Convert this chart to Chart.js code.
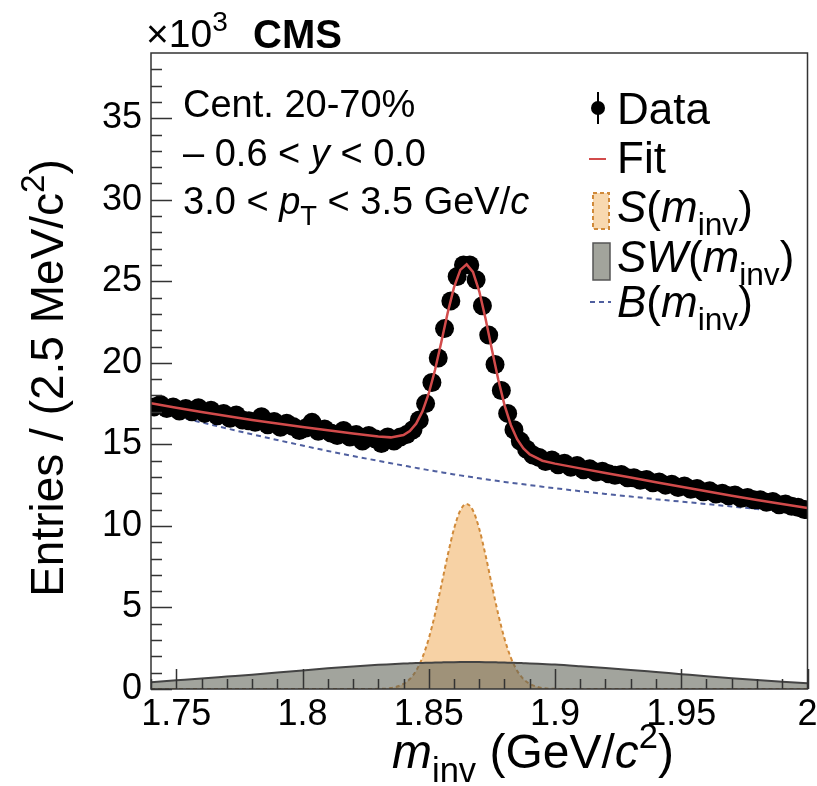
<!DOCTYPE html>
<html>
<head>
<meta charset="utf-8">
<script src="https://cdn.jsdelivr.net/npm/chart.js@4.4.1/dist/chart.umd.min.js"></script>
<style>
  html, body { margin: 0; padding: 0; background: #fff; }
  canvas { display: block; }
</style>
</head>
<body>
<canvas id="massChart" width="817" height="786"></canvas>
<script>
// Histogram binning (GeV/c^2)
const binStart = 1.74;
const binWidth = 0.0025;

// Entries per 2.5 MeV bin, in units of 10^3
const dataCounts = [
  17.3, 17.45, 17.2, 17.3, 17.05, 17.2, 17.0, 17.25, 16.9, 17.1,
  16.75, 16.9, 16.6, 16.8, 16.5, 16.45, 16.35, 16.7, 16.2, 16.4,
  16.05, 16.3, 16.1, 15.85, 16.0, 16.35, 15.8, 15.95, 15.7, 15.55,
  15.85, 15.45, 15.6, 15.2, 15.55, 15.35, 15.05, 15.45, 15.2, 15.45,
  15.6, 15.9, 16.5, 17.5, 18.8, 20.3, 22.1, 23.8, 25.3, 26.0,
  26.0, 25.1, 23.5, 21.7, 19.9, 18.3, 16.9, 15.9, 15.2, 14.7,
  14.35, 14.2, 13.95, 14.05, 13.75, 13.85, 13.6, 13.7, 13.45, 13.5,
  13.3, 13.35, 13.2, 13.1, 13.15, 12.95, 12.95, 12.8, 12.85, 12.65,
  12.7, 12.5, 12.55, 12.35, 12.45, 12.25, 12.3, 12.1, 12.15, 11.95,
  12.0, 11.85, 11.9, 11.7, 11.75, 11.6, 11.6, 11.45, 11.5, 11.3,
  11.35, 11.2, 11.15, 11.0
];

// Points where the fit and its components are sampled
const curveMass = [
  1.74, 1.75, 1.76, 1.77, 1.78, 1.79, 1.80, 1.81, 1.82, 1.83,
  1.835, 1.84, 1.8425, 1.845, 1.8475, 1.85, 1.8525, 1.855, 1.8575, 1.86,
  1.8625, 1.865, 1.8675, 1.87, 1.8725, 1.875, 1.8775, 1.88, 1.8825, 1.885,
  1.8875, 1.89, 1.895, 1.90, 1.91, 1.92, 1.93, 1.94, 1.95, 1.96,
  1.97, 1.98, 1.99, 2.00
];
const fitValues = [
  17.52, 17.25, 16.99, 16.74, 16.50, 16.28, 16.07, 15.87, 15.67, 15.48,
  15.43, 15.57, 15.82, 16.27, 17.02, 18.12, 19.58, 21.29, 23.07, 24.63,
  25.70, 26.04, 25.58, 24.39, 22.71, 20.82, 18.99, 17.41, 16.19, 15.32,
  14.75, 14.38, 14.00, 13.82, 13.53, 13.25, 12.97, 12.68, 12.40, 12.12,
  11.85, 11.59, 11.34, 11.10
];
const signalValues = [
  0, 0, 0, 0, 0, 0, 0, 0, 0, 0.01,
  0.06, 0.31, 0.61, 1.12, 1.93, 3.09, 4.60, 6.37, 8.20, 9.82,
  10.95, 11.35, 10.95, 9.82, 8.20, 6.37, 4.60, 3.09, 1.93, 1.12,
  0.61, 0.31, 0.06, 0.01, 0, 0, 0, 0, 0, 0,
  0, 0, 0, 0
];
const swapValues = [
  0.42, 0.53, 0.64, 0.76, 0.88, 1.01, 1.14, 1.27, 1.38, 1.48,
  1.52, 1.56, 1.575, 1.59, 1.60, 1.61, 1.62, 1.63, 1.64, 1.645,
  1.648, 1.65, 1.65, 1.648, 1.645, 1.64, 1.63, 1.62, 1.61, 1.60,
  1.585, 1.57, 1.535, 1.50, 1.40, 1.29, 1.17, 1.04, 0.91, 0.78,
  0.66, 0.55, 0.45, 0.36
];
const backgroundValues = [
  17.10, 16.72, 16.35, 15.98, 15.62, 15.27, 14.93, 14.60, 14.29, 13.99,
  13.845, 13.70, 13.63, 13.56, 13.49, 13.42, 13.355, 13.29, 13.225, 13.16,
  13.10, 13.04, 12.98, 12.92, 12.865, 12.81, 12.755, 12.70, 12.65, 12.60,
  12.55, 12.50, 12.405, 12.31, 12.13, 11.96, 11.80, 11.64, 11.49, 11.34,
  11.19, 11.04, 10.89, 10.74
];

const xTickValues = [1.75, 1.8, 1.85, 1.9, 1.95, 2.0];
const yTickValues = [0, 5, 10, 15, 20, 25, 30, 35];

const FONT = '"Liberation Sans", Arial, sans-serif';
const TICK_FS = 36;
const TEXT_FS = 38;
const LEGEND_FS = 44;
const TITLE_FS = 46;

function toPoints(xs, ys) {
  return ys.map((v, i) => ({ x: xs[i], y: v }));
}
const dataPoints = dataCounts.map((v, i) => ({ x: binStart + (i + 0.5) * binWidth, y: v }));

// rich text: parts with italic / bold / sub / sup
function setFont(ctx, p, size) {
  const s = (p.sub || p.sup) ? size * 0.72 : size;
  ctx.font = (p.i ? 'italic ' : '') + (p.b ? 'bold ' : '') + s + 'px ' + FONT;
}
function richWidth(ctx, parts, size) {
  let w = 0;
  parts.forEach(p => {
    setFont(ctx, p, size);
    w += ctx.measureText(p.t).width;
  });
  return w;
}
function drawRich(ctx, x, y, parts, size) {
  let cx = x;
  parts.forEach(p => {
    setFont(ctx, p, size);
    let dy = 0;
    if (p.sub) dy = size * 0.3;
    if (p.sup) dy = -size * 0.42;
    ctx.fillText(p.t, cx, y + dy);
    cx += ctx.measureText(p.t).width;
  });
  return cx;
}

const decorations = {
  id: 'decorations',
  beforeDraw(chart) {
    const ctx = chart.ctx;
    ctx.save();
    ctx.fillStyle = '#fff';
    ctx.fillRect(0, 0, chart.width, chart.height);
    ctx.restore();
  },
  afterDraw(chart) {
    const { ctx, chartArea: a, scales: { x, y } } = chart;
    ctx.save();

    // frame
    ctx.strokeStyle = '#333';
    ctx.lineWidth = 1.5;
    ctx.strokeRect(a.left, a.top, a.right - a.left, a.bottom - a.top);

    // inward ticks
    ctx.beginPath();
    for (let v = 0; v <= 38; v++) {
      const py = Math.round(y.getPixelForValue(v)) + 0.5;
      const len = v % 5 === 0 ? 21 : 11;
      ctx.moveTo(a.left, py);
      ctx.lineTo(a.left + len, py);
    }
    for (let k = 174; k <= 200; k++) {
      const px = Math.round(x.getPixelForValue(k / 100)) + 0.5;
      const len = k % 5 === 0 ? 20 : 10;
      ctx.moveTo(px, a.bottom);
      ctx.lineTo(px, a.bottom - len);
    }
    ctx.stroke();

    ctx.fillStyle = '#000';
    ctx.textBaseline = 'alphabetic';
    ctx.textAlign = 'left';

    // header
    drawRich(ctx, 146, 47, [{ t: '×10' }, { t: '3', sup: true }], 39);
    drawRich(ctx, 253, 48, [{ t: 'CMS', b: true }], 40);

    // selection text
    drawRich(ctx, 183, 117, [{ t: 'Cent. 20-70%' }], TEXT_FS);
    drawRich(ctx, 183, 166, [{ t: '\u2013 0.6 < ' }, { t: 'y', i: true }, { t: ' < 0.0' }], TEXT_FS);
    drawRich(ctx, 183, 214, [{ t: '3.0 < ' }, { t: 'p', i: true }, { t: 'T', sub: true }, { t: ' < 3.5 GeV/' }, { t: 'c', i: true }], TEXT_FS);

    // legend
    const tx = 617;
    ctx.strokeStyle = '#000';
    ctx.lineWidth = 2;
    ctx.beginPath();
    ctx.moveTo(598, 92); ctx.lineTo(598, 124);
    ctx.stroke();
    ctx.beginPath();
    ctx.arc(598, 108, 7, 0, Math.PI * 2);
    ctx.fill();
    drawRich(ctx, tx, 124, [{ t: 'Data' }], LEGEND_FS);

    ctx.strokeStyle = '#d24b4b';
    ctx.beginPath();
    ctx.moveTo(589, 159); ctx.lineTo(606, 159);
    ctx.stroke();
    drawRich(ctx, tx, 173, [{ t: 'Fit' }], LEGEND_FS);

    ctx.fillStyle = 'rgba(240,170,80,0.45)';
    ctx.fillRect(593, 193, 16, 36);
    ctx.setLineDash([4, 3]);
    ctx.strokeStyle = '#d08a3a';
    ctx.strokeRect(593, 193, 16, 36);
    ctx.setLineDash([]);
    ctx.fillStyle = '#000';
    drawRich(ctx, tx, 222, [{ t: 'S', i: true }, { t: '(' }, { t: 'm', i: true }, { t: 'inv', sub: true }, { t: ')' }], LEGEND_FS);

    ctx.fillStyle = '#a2a49c';
    ctx.fillRect(593, 243, 17, 37);
    ctx.strokeStyle = '#555';
    ctx.lineWidth = 1.5;
    ctx.strokeRect(593, 243, 17, 37);
    ctx.fillStyle = '#000';
    drawRich(ctx, tx, 272, [{ t: 'SW', i: true }, { t: '(' }, { t: 'm', i: true }, { t: 'inv', sub: true }, { t: ')' }], LEGEND_FS);

    ctx.strokeStyle = '#4f5f9f';
    ctx.lineWidth = 2;
    ctx.setLineDash([5, 4]);
    ctx.beginPath();
    ctx.moveTo(590, 302); ctx.lineTo(611, 302);
    ctx.stroke();
    ctx.setLineDash([]);
    drawRich(ctx, tx, 317, [{ t: 'B', i: true }, { t: '(' }, { t: 'm', i: true }, { t: 'inv', sub: true }, { t: ')' }], LEGEND_FS);

    // x title
    const xParts = [{ t: 'm', i: true }, { t: 'inv', sub: true }, { t: ' (GeV/' }, { t: 'c', i: true }, { t: '2', sup: true }, { t: ')' }];
    const xw = richWidth(ctx, xParts, 48);
    drawRich(ctx, 533 - xw / 2, 768, xParts, 48);

    // y title, rotated
    const yParts = [{ t: 'Entries / (2.5 MeV/' }, { t: 'c' }, { t: '2', sup: true }, { t: ')' }];
    const yw = richWidth(ctx, yParts, TITLE_FS);
    ctx.translate(63, 378);
    ctx.rotate(-Math.PI / 2);
    drawRich(ctx, -yw / 2, 0, yParts, TITLE_FS);

    ctx.restore();
  }
};

new Chart(document.getElementById('massChart'), {
  type: 'line',
  data: {
    datasets: [
      {
        label: 'Fit',
        data: toPoints(curveMass, fitValues),
        borderColor: '#d24b4b',
        borderWidth: 2.5,
        pointRadius: 0,
        tension: 0,
        fill: false,
        order: 1
      },
      {
        label: 'Data',
        data: dataPoints,
        showLine: false,
        pointRadius: 9.5,
        pointBorderWidth: 0,
        pointBackgroundColor: '#000',
        borderColor: '#000',
        order: 2
      },
      {
        label: 'B',
        data: toPoints(curveMass, backgroundValues),
        borderColor: '#4f5f9f',
        borderWidth: 2,
        borderDash: [5, 4],
        pointRadius: 0,
        cubicInterpolationMode: 'monotone',
        fill: false,
        order: 3
      },
      {
        label: 'SW',
        data: toPoints(curveMass, swapValues),
        borderColor: '#444',
        borderWidth: 2,
        backgroundColor: 'rgba(100,104,92,0.6)',
        pointRadius: 0,
        cubicInterpolationMode: 'monotone',
        fill: 'origin',
        order: 4
      },
      {
        label: 'S',
        data: toPoints(curveMass, signalValues),
        borderColor: '#d08a3a',
        borderWidth: 2,
        borderDash: [4, 3],
        backgroundColor: 'rgba(240,165,75,0.5)',
        pointRadius: 0,
        cubicInterpolationMode: 'monotone',
        fill: 'origin',
        order: 5
      }
    ]
  },
  options: {
    responsive: false,
    animation: false,
    devicePixelRatio: 1,
    layout: { padding: { left: 0, right: 6, top: 53, bottom: 0 } },
    plugins: {
      legend: { display: false },
      tooltip: { enabled: false }
    },
    scales: {
      x: {
        type: 'linear',
        min: 1.74,
        max: 2.0,
        afterBuildTicks: function(scale) {
          scale.ticks = xTickValues.map(v => ({ value: v }));
        },
        afterFit: function(scale) {
          scale.height = 97;
          scale.paddingLeft = 0;
          scale.paddingRight = 0;
        },
        grid: { display: false, drawTicks: false },
        border: { display: false },
        ticks: {
          autoSkip: false,
          maxRotation: 0,
          padding: 4,
          color: '#000',
          font: { size: TICK_FS, family: FONT },
          callback: function(value) {
            return String(parseFloat(value.toFixed(2)));
          }
        }
      },
      y: {
        min: 0,
        max: 39,
        afterBuildTicks: function(scale) {
          scale.ticks = yTickValues.map(v => ({ value: v }));
        },
        afterFit: function(scale) {
          scale.width = 151;
          scale.paddingTop = 0;
          scale.paddingBottom = 0;
        },
        grid: { display: false, drawTicks: false },
        border: { display: false },
        ticks: {
          padding: 9,
          color: '#000',
          font: { size: TICK_FS, family: FONT }
        }
      }
    }
  },
  plugins: [decorations]
});
</script>
</body>
</html>
